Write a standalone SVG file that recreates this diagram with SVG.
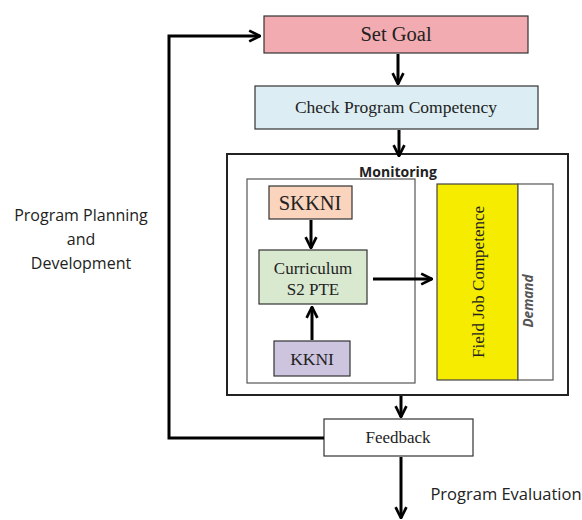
<svg xmlns="http://www.w3.org/2000/svg" width="582" height="520" viewBox="0 0 582 520">
<defs>
<marker id="ah" viewBox="0 0 10 10" refX="9" refY="5" markerWidth="4.5" markerHeight="4.5" orient="auto" markerUnits="strokeWidth">
<path d="M1,1 L9,5 L1,9" fill="none" stroke="#000" stroke-width="2"/>
</marker>
</defs>
<style>
.box{stroke:#333;stroke-width:1.2}
.serif{font-family:"Liberation Serif","Times New Roman",serif;fill:#222;text-anchor:middle}
.sans{font-family:"Open Sans","Noto Sans",sans-serif;fill:#222;text-anchor:middle}
.conn{stroke:#000;stroke-width:3;fill:none}
</style>
<rect width="582" height="520" fill="#fff"/>
<g id="set-goal">
<rect class="box" x="264" y="16" width="264" height="37" fill="#f2abb0"/>
<text class="serif" x="396" y="41" font-size="20.5">Set Goal</text>
</g>
<g id="check-program">
<rect class="box" x="255" y="86" width="283" height="43" fill="#dcedf3"/>
<text class="serif" x="396" y="113" font-size="17.5">Check Program Competency</text>
</g>
<g id="monitoring">
<rect x="227" y="154" width="341" height="241" fill="none" stroke="#222" stroke-width="2"/>
<text x="398" y="177" font-family="'Open Sans','Noto Sans',sans-serif" font-size="14" font-weight="bold" text-anchor="middle" fill="#222">Monitoring</text>
<rect x="247" y="179" width="168" height="204" fill="none" stroke="#555" stroke-width="1.2"/>
</g>
<g id="skkni">
<rect class="box" x="269" y="186" width="83" height="33" fill="#fbd4bd"/>
<text class="serif" x="310" y="210" font-size="20.5">SKKNI</text>
</g>
<g id="curriculum">
<rect class="box" x="259" y="250" width="108" height="54" fill="#d8e9d0"/>
<text class="serif" x="313" y="274" font-size="17">Curriculum</text>
<text class="serif" x="313" y="295" font-size="17">S2 PTE</text>
</g>
<g id="kkni">
<rect class="box" x="274" y="341" width="76" height="35" fill="#cdc4e0"/>
<text class="serif" x="312" y="365" font-size="17.5">KKNI</text>
</g>
<g id="field-job">
<rect x="437" y="184" width="81" height="196" fill="#f5ec00" stroke="#444" stroke-width="1.2"/>
<text class="serif" font-size="17" transform="translate(484,282) rotate(-90)">Field Job Competence</text>
</g>
<g id="demand">
<rect x="518" y="184" width="35" height="196" fill="#fff" stroke="#555" stroke-width="1.2"/>
<text font-family="'Open Sans','Noto Sans',sans-serif" font-size="13.5" font-weight="bold" font-style="italic" fill="#555" text-anchor="middle" transform="translate(533,301) rotate(-90)">Demand</text>
</g>
<g id="feedback">
<rect class="box" x="324" y="419" width="149" height="37" fill="#fff"/>
<text class="serif" x="398" y="443" font-size="17">Feedback</text>
</g>
<g id="labels">
<text class="sans" x="81" y="221" font-size="16">Program Planning</text>
<text class="sans" x="81" y="245" font-size="16">and</text>
<text class="sans" x="81" y="269" font-size="16">Development</text>
<text class="sans" x="506" y="500" font-size="16.5">Program Evaluation</text>
</g>
<g id="connectors">
<path class="conn" d="M398,54 V84" marker-end="url(#ah)"/>
<path class="conn" d="M399,130 V156" marker-end="url(#ah)"/>
<path class="conn" d="M311,220 V248" marker-end="url(#ah)"/>
<path class="conn" d="M312,340 V307" marker-end="url(#ah)"/>
<path class="conn" d="M373,279 H432" marker-end="url(#ah)"/>
<path class="conn" d="M401,396 V417" marker-end="url(#ah)"/>
<path class="conn" d="M401,457 V518" marker-end="url(#ah)"/>
<path class="conn" d="M324,438 H169 V36 H260" marker-end="url(#ah)"/>
</g>
</svg>
